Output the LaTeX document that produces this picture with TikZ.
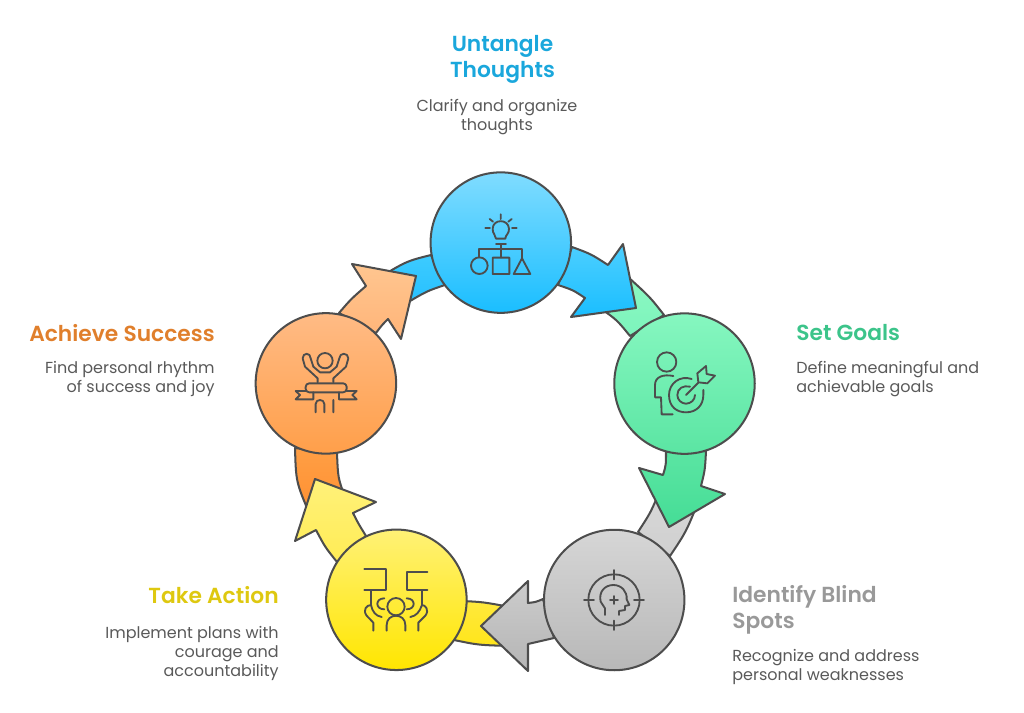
\documentclass[tikz,border=0pt]{standalone}
\usepackage{fontspec}
\setmainfont{Poppins}
\newfontfamily\headfont{Poppins SemiBold}
\usetikzlibrary{positioning}
\definecolor{ink}{HTML}{4D4D4D}
\definecolor{bodytext}{HTML}{595959}
\definecolor{blueT}{HTML}{3DCBFF}\definecolor{blueU}{HTML}{26C0FF}
\definecolor{greenT}{HTML}{8CF8C2}\definecolor{greenU}{HTML}{7CF4BC}
\definecolor{grayT}{HTML}{D9D9D9}\definecolor{grayU}{HTML}{CFCFCF}
\definecolor{yellowT}{HTML}{FFE93D}\definecolor{yellowU}{HTML}{FFE51A}
\definecolor{orangeT}{HTML}{FF9F45}\definecolor{orangeU}{HTML}{FF8F30}
\definecolor{blueA}{HTML}{4DCFFF}\definecolor{blueB}{HTML}{1ABEFF}
\definecolor{greenA}{HTML}{5BE5A3}\definecolor{greenB}{HTML}{45DD96}
\definecolor{grayA}{HTML}{CCCCCC}\definecolor{grayB}{HTML}{B5B5B5}
\definecolor{yellowA}{HTML}{FFF17A}\definecolor{yellowB}{HTML}{FFEC55}
\definecolor{orangeA}{HTML}{FFC690}\definecolor{orangeB}{HTML}{FFB478}
\definecolor{titleA}{HTML}{1AA7DC}
\definecolor{titleB}{HTML}{3CC48A}
\definecolor{titleC}{HTML}{999999}
\definecolor{titleD}{HTML}{DEC810}
\definecolor{titleE}{HTML}{E07F2C}
\tikzset{
	disc/.style={circle,draw=ink,line width=1.15pt,minimum size=2.81cm,inner sep=0pt},
	band/.style={draw=ink,line width=1.15pt,line join=round},
	icon/.style={draw=ink,line width=1.05pt,line cap=round,line join=round},
	title/.style={font=\headfont\fontsize{12.4}{14.7}\selectfont,inner sep=0pt},
	blurb/.style={font=\fontsize{9.1}{10.8}\selectfont,text=bodytext,inner sep=0pt}
}
\begin{document}
\begin{tikzpicture}[x=.02cm,y=-.02cm]
	\useasboundingbox (0,0) rectangle (1024,713);
	% tails
	\draw[band,top color=blueT,bottom color=blueU] (431,255) .. controls (407,261) .. (380,277) -- (405,304) .. controls (427,291) .. (445,285) -- cycle;
	\draw[band,top color=greenT,bottom color=greenU] (664,315) .. controls (650,297) .. (628,277) -- (600,308) .. controls (617,320) .. (630,336) -- cycle;
	\draw[band,top color=grayT,bottom color=grayU] (697,505) .. controls (686,532) .. (670,556) -- (638,532) .. controls (651,512) .. (660,490) -- cycle;
	\draw[band,top color=yellowT,bottom color=yellowU] (462,601) .. controls (483,602) .. (510,607) -- (510,646) .. controls (478,645) .. (454,640) -- cycle;
	\draw[band,top color=orangeT,bottom color=orangeU] (295,448) .. controls (296,482) .. (310,515) -- (345,497) .. controls (338,478) .. (337,453) -- cycle;
	% arrows
	\draw[band,top color=blueA,bottom color=blueB] (572,247) .. controls (591,254) .. (608,265) -- (623,244) -- (636,308) -- (571,317) -- (585,298) .. controls (573,290) .. (558,285) -- cycle;
	\draw[band,top color=greenA,bottom color=greenB] (706,451) .. controls (705,470) .. (701,486) -- (725,494) -- (669,527) -- (639,468) -- (663,475) .. controls (666,465) .. (666,452) -- cycle;
	\draw[band,top color=grayA,bottom color=grayB] (543,599) .. controls (536,602) .. (528,603) -- (528,581) -- (481,626) -- (528,671) -- (528,644) .. controls (541,642) .. (554,638) -- cycle;
	\draw[band,top color=yellowA,bottom color=yellowB] (337,562) .. controls (325,547) .. (316,530) -- (295,541) -- (315,479) -- (376,502) -- (353,513) .. controls (358,523) .. (366,536) -- cycle;
	\draw[band,top color=orangeA,bottom color=orangeB] (339,313) .. controls (351,299) .. (366,286) -- (352,264) -- (416,276) -- (401,339) -- (388,319) .. controls (382,325) .. (376,333) -- cycle;
	% circles
	\foreach \n/\x/\y/\a/\b in {thoughts/500.8/242.6/80DCFF/1ABEFF,goals/684.5/383.6/86F7C0/5BE5A3,blind/614.2/600/D6D6D6/B8B8B8,action/396.4/599.8/FFF176/FFE600,success/325.9/383.4/FFBB85/FF9F4A}{
		\definecolor{discA}{HTML}{\a}\definecolor{discB}{HTML}{\b}
		\node[disc,top color=discA,bottom color=discB] (\n) at (\x,\y) {};
	}
	% bulb and shapes
	\begin{scope}[shift={(420,160)},scale=1/3]
		\draw[icon] (228,236) .. controls (228,224) and (217,222) .. (218,206) .. controls (219,176) and (265,176) .. (267,206) .. controls (268,222) and (256,224) .. (256,236) -- cycle;
		\draw[icon] (228,253) -- (258,253) (242,253) -- (242,292) (178,292) -- (178,268) -- (306,268) -- (306,295);
		\draw[icon] (242,163) -- (242,177) (209,177) -- (219,185) (275,177) -- (265,185) (196,204) -- (210,204) (276,204) -- (290,204);
		\draw[icon] (178,317) circle (25) (218,293) rectangle (268,342) (306,295) -- (281,342) -- (331,342) -- cycle;
	\end{scope}
	% person and target
	\begin{scope}[shift={(600,300)},scale=1/3]
		\draw[icon] (200,186) circle (29);
		\draw[icon] (220,228) .. controls (190,222) and (165,230) .. (165,255) -- (165,292) -- (183,292) -- (185,343) -- (218,343);
		\draw[icon] (275,237) .. controls (240,225) and (207,250) .. (207,285) .. controls (207,320) and (230,337) .. (258,337) .. controls (290,337) and (310,315) .. (310,285) -- (310,270);
		\draw[icon] (270,260) .. controls (250,255) and (232,265) .. (232,285) .. controls (232,300) and (245,311) .. (258,311) .. controls (272,311) and (285,300) .. (285,285);
		\draw[icon] (258,285) -- (295,248) (292,220) -- (318,198) -- (320,222) -- (345,227) -- (322,250) -- (295,247) -- cycle;
	\end{scope}
	% head in crosshair
	\begin{scope}[shift={(470,510)},scale=1/3]
		\draw[icon] (432,270) circle (77);
		\draw[icon] (432,180) -- (432,208) (432,332) -- (432,360) (342,270) -- (372,270) (492,270) -- (522,270);
		\draw[icon] (420,270) -- (444,270) (432,258) -- (432,282);
		\draw[icon] (405,315) -- (405,295) -- (392,275) .. controls (385,245) and (405,225) .. (430,225) .. controls (455,225) and (472,245) .. (470,268) -- (478,285) -- (465,288) -- (465,300) -- (447,303) -- (447,315);
	\end{scope}
	% people with signs
	\begin{scope}[shift={(285,470)},scale=1/3]
		\draw[icon] (238,298) -- (303,298) -- (303,360) -- (238,360) (427,305) -- (367,305) -- (367,360) -- (427,360);
		\draw[icon] (258,360) -- (258,405) (411,360) -- (411,405);
		\draw[icon] (333,410) circle (26);
		\draw[icon] (305,482) -- (305,465) .. controls (305,428) and (361,428) .. (361,465) -- (361,482);
		\draw[icon] (265,482) -- (265,458) -- (245,437) .. controls (232,420) and (245,405) .. (258,405) .. controls (262,425) and (272,438) .. (290,441);
		\draw[icon] (400,482) -- (400,458) -- (421,437) .. controls (434,420) and (421,405) .. (411,405) .. controls (404,425) and (394,438) .. (376,441);
		\draw[icon] (298,385) .. controls (270,385) and (270,418) .. (298,418) (365,385) .. controls (393,385) and (393,418) .. (365,418);
	\end{scope}
	% winner with banner
	\begin{scope}[shift={(245,255)},scale=1/3]
		\draw[icon] (240,317) circle (23);
		\draw[icon] (218,382) -- (218,370) -- (180,335) -- (173,310) .. controls (173,292) and (197,292) .. (197,310) -- (205,335) -- (225,352) -- (255,352) -- (275,335) -- (283,310) .. controls (283,292) and (310,292) .. (310,310) -- (303,335) -- (265,370) -- (265,382);
		\draw[icon,rounded corners=2pt] (182,385) rectangle (305,412);
		\draw[icon] (182,408) -- (152,408) -- (165,420) -- (152,433) -- (205,433) -- (205,412);
		\draw[icon] (305,408) -- (335,408) -- (322,420) -- (335,433) -- (282,433) -- (282,412);
		\draw[icon] (212,472) -- (212,447) .. controls (212,431) and (238,431) .. (238,447) -- (238,472) (265,435) -- (265,472);
	\end{scope}
	% labels
	\node[title,text=titleA,align=center,anchor=north] (thoughtstitle) at (502.5,35) {Untangle\\Thoughts};
	\node[blurb,align=center,anchor=north] (thoughtstext) at (497,98.5) {Clarify and organize\\thoughts};
	\node[title,text=titleB,anchor=north west] (goalstitle) at (796,324) {Set Goals};
	\node[blurb,align=left,anchor=north west] (goalstext) at (796,361) {Define meaningful and\\achievable goals};
	\node[title,text=titleC,align=left,anchor=north west] (blindtitle) at (732,585) {Identify Blind\\Spots};
	\node[blurb,align=left,anchor=north west] (blindtext) at (732,648.5) {Recognize and address\\personal weaknesses};
	\node[title,text=titleD,anchor=north east] (actiontitle) at (279,586) {Take Action};
	\node[blurb,align=right,anchor=north east] (actiontext) at (279,626) {Implement plans with\\courage and\\accountability};
	\node[title,text=titleE,anchor=north east] (successtitle) at (215,324) {Achieve Success};
	\node[blurb,align=right,anchor=north east] (successtext) at (215,361) {Find personal rhythm\\of success and joy};
\end{tikzpicture}
\end{document}
